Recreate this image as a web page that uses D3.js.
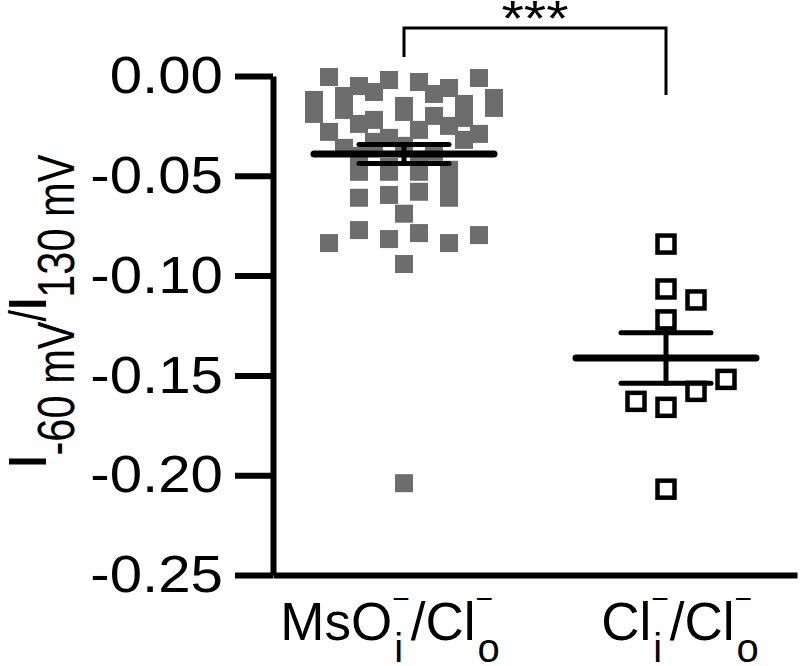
<!DOCTYPE html>
<html>
<head>
<meta charset="utf-8">
<script src="https://cdn.jsdelivr.net/npm/d3@7"></script>
<style>
body { margin: 0; background: #fff; }
svg { display: block; font-family: "Liberation Sans", Arial, sans-serif; }
</style>
</head>
<body>
<svg id="chart" width="800" height="666"></svg>
<script>
// groups on the x axis
const groups = ["mso", "cl"];
const groupLabels = [
    [["MsO"], ["i", "\u2212"], ["/Cl"], ["o", "\u2212"]],
    [["Cl"], ["i", "\u2212"], ["/Cl"], ["o", "\u2212"]]
];

// I-60mV / I130mV ratios (recording order)
const msoValues = [
    -0.012, -0.0005, -0.028, -0.019, -0.005, -0.036, -0.0837, -0.010, -0.024, -0.002,
    -0.040, -0.017, -0.061, -0.031, -0.008, -0.0772, -0.048, -0.003, -0.033, -0.022,
    -0.015, -0.0596, -0.027, -0.006, -0.0456, -0.0817, -0.018, -0.009, -0.204, -0.035,
    -0.001, -0.048, -0.025, -0.014, -0.058, -0.020, -0.0787, -0.038, -0.021, -0.029,
    -0.011, -0.069, -0.042, -0.016, -0.0837, -0.032, -0.061, -0.047, -0.0942, -0.048,
    -0.0797, -0.054
];
const clValues = [-0.0842, -0.1067, -0.1122, -0.1222, -0.166, -0.158, -0.163, -0.152, -0.207];

const yTicks = [0, -0.05, -0.10, -0.15, -0.20, -0.25];
const sigText = "***";
const bracket = { top: 0.024, left: 0.0095, right: -0.0095 };

const svg = d3.select("#chart");
const margin = { top: 76, right: 3, bottom: 91, left: 273 };
const width = 800, height = 666;

const y = d3.scaleLinear().domain([-0.25, 0]).range([height - margin.bottom, margin.top]);
const x = d3.scalePoint().domain(groups).range([margin.left, width - margin.right]).padding(0.5);

// y axis
const yAxis = svg.append("g")
    .attr("transform", "translate(" + margin.left + ",0)")
    .call(d3.axisLeft(y).tickValues(yTicks).tickSize(38).tickSizeOuter(0).tickPadding(0)
        .tickFormat(d => d3.format(".2f")(d).replace("\u2212", "-")));
yAxis.select(".domain").attr("stroke", "#000").attr("stroke-width", 6);
yAxis.selectAll(".tick line").attr("stroke", "#000").attr("stroke-width", 6);
// labels are a bit wider than the font, stretch them
yAxis.selectAll(".tick text")
    .attr("x", null)
    .attr("transform", "translate(-50,0) scale(1.12,1)")
    .attr("font-size", 52).attr("fill", "#000")
    .attr("font-family", "Liberation Sans, Arial, sans-serif");

// x axis line
const xAxis = svg.append("g")
    .attr("transform", "translate(0," + y(-0.25) + ")")
    .call(d3.axisBottom(x).tickSize(0).tickSizeOuter(0).tickFormat(""));
xAxis.select(".domain").attr("stroke", "#000").attr("stroke-width", 6);

// x labels with stacked sub / superscripts
const labelShift = [-14, 14];
xAxis.selectAll(".tick").each(function(d, i) {
    const g = d3.select(this).append("g").attr("class", "lbl")
        .attr("fill", "#000").attr("text-anchor", "start")
        .attr("font-family", "Liberation Sans, Arial, sans-serif");
    let cx = 0;
    groupLabels[i].forEach(part => {
        if (part.length === 1) {
            const t = g.append("text").attr("x", cx).attr("y", 65)
                .attr("font-size", 53).text(part[0]);
            cx += t.node().getComputedTextLength();
        } else {
            const s = g.append("text").attr("x", cx + 2).attr("y", 87)
                .attr("font-size", 40).text(part[0]);
            const p = g.append("text").attr("x", cx).attr("y", 34)
                .attr("font-size", 30).text(part[1]);
            cx += Math.max(s.node().getComputedTextLength() + 2, p.node().getComputedTextLength()) + 1;
        }
    });
    g.attr("transform", "translate(" + (labelShift[i] - cx / 2) + ",0)");
});

// y title, condensed along the text direction
svg.append("text")
    .attr("transform", "translate(46,311) rotate(-90) scale(0.8,1)")
    .attr("text-anchor", "middle")
    .attr("font-size", 52)
    .call(t => {
        t.append("tspan").attr("font-size", 54).attr("font-weight", "bold").text("I");
        t.append("tspan").attr("dy", 28).text("-60 mV");
        t.append("tspan").attr("dy", -28).text("/");
        t.append("tspan").attr("font-size", 54).attr("font-weight", "bold").text("I");
        t.append("tspan").attr("dy", 28).text("130 mV");
    });

// column scatter: values close in y share a row, the row is spread around the centre
function rowLayout(values, cx, step, binH) {
    const idx = d3.range(values.length).sort((a, b) => values[b] - values[a]);
    const rows = [];
    idx.forEach(i => {
        const row = rows[rows.length - 1];
        if (row && values[i] >= row.start - binH - 1e-9) row.items.push(i);
        else rows.push({ start: values[i], items: [i] });
    });
    const pts = [];
    rows.forEach(row => {
        const n = row.items.length;
        row.items.sort((a, b) => a - b).forEach((i, j) => {
            pts.push({ x: cx + (j - (n - 1) / 2) * step, y: y(values[i]), v: values[i] });
        });
    });
    return pts;
}

// greedy beeswarm: try offsets 0, +1, -1, +2, ... half steps
function swarm(values, cx, halfStep, minDy) {
    const placed = [];
    values.forEach(v => {
        const py = y(v);
        for (let k = 0; k < 40; k++) {
            const off = k === 0 ? 0 : (k % 2 ? 1 : -1) * Math.ceil(k / 2) * halfStep;
            const px = cx + off;
            const hit = placed.some(p => Math.abs(p.x - px) < 2 * halfStep - 0.5 && Math.abs(p.y - py) < minDy);
            if (!hit) { placed.push({ x: px, y: py, v: v }); break; }
        }
    });
    return placed;
}

const msoPts = rowLayout(msoValues, x("mso"), 30, 0.007);
const clPts = swarm(clValues, x("cl"), 15, 28);

svg.append("g").selectAll("rect")
    .data(msoPts)
    .enter().append("rect")
    .attr("x", d => d.x - 9)
    .attr("y", d => d.y - 9)
    .attr("width", 18)
    .attr("height", 18)
    .attr("fill", "#6d6d6d");

svg.append("g").selectAll("rect")
    .data(clPts)
    .enter().append("rect")
    .attr("x", d => d.x - 8.5)
    .attr("y", d => d.y - 8.5)
    .attr("width", 17)
    .attr("height", 17)
    .attr("fill", "#fff")
    .attr("stroke", "#000")
    .attr("stroke-width", 4.5);

// mean +/- SEM
function meanSem(values, key) {
    const m = d3.mean(values);
    const sem = d3.deviation(values) / Math.sqrt(values.length);
    const cx = x(key);
    const g = svg.append("g").attr("stroke", "#000").attr("stroke-linecap", "round");
    g.append("line").attr("x1", cx).attr("x2", cx).attr("y1", y(m + sem)).attr("y2", y(m - sem)).attr("stroke-width", 5);
    g.append("line").attr("x1", cx - 45).attr("x2", cx + 45).attr("y1", y(m + sem)).attr("y2", y(m + sem)).attr("stroke-width", 5);
    g.append("line").attr("x1", cx - 45).attr("x2", cx + 45).attr("y1", y(m - sem)).attr("y2", y(m - sem)).attr("stroke-width", 5);
    g.append("line").attr("x1", cx - 90).attr("x2", cx + 90).attr("y1", y(m)).attr("y2", y(m)).attr("stroke-width", 7);
}
meanSem(msoValues, "mso");
meanSem(clValues, "cl");

// significance bracket
svg.append("path")
    .attr("d", d3.line()([
        [x("mso"), y(bracket.left)], [x("mso"), y(bracket.top)],
        [x("cl"), y(bracket.top)], [x("cl"), y(bracket.right)]
    ]))
    .attr("fill", "none")
    .attr("stroke", "#000")
    .attr("stroke-width", 3);

svg.append("text")
    .attr("transform", "translate(" + (x("mso") + x("cl")) / 2 + ",36) scale(1.15,1)")
    .attr("text-anchor", "middle")
    .attr("font-size", 50)
    .text(sigText);
</script>
</body>
</html>
